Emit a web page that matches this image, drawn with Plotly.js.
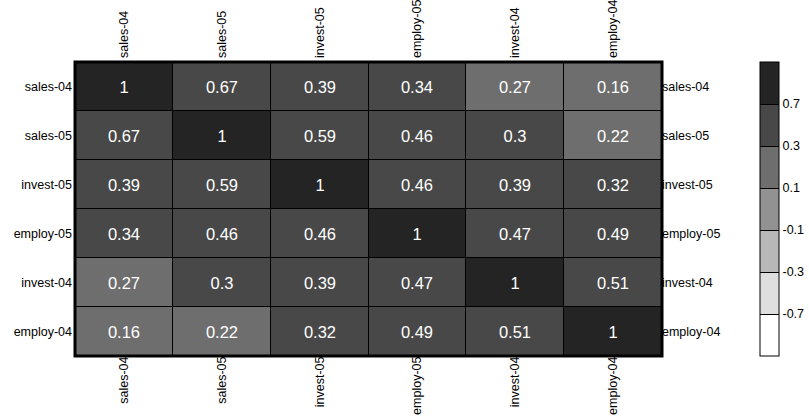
<!DOCTYPE html>
<html>
<head>
<meta charset="utf-8">
<script src="https://cdn.plot.ly/plotly-3.0.1.min.js"></script>
<style>html,body{margin:0;padding:0;background:#fff;}#chart{width:809px;height:416px;}</style>
</head>
<body>
<div id="chart"></div>
<script>
const labels = ['sales-04', 'sales-05', 'invest-05', 'employ-05', 'invest-04', 'employ-04'];
const rowSales04  = [1, 0.67, 0.39, 0.34, 0.27, 0.16];
const rowSales05  = [0.67, 1, 0.59, 0.46, 0.3, 0.22];
const rowInvest05 = [0.39, 0.59, 1, 0.46, 0.39, 0.32];
const rowEmploy05 = [0.34, 0.46, 0.46, 1, 0.47, 0.49];
const rowInvest04 = [0.27, 0.3, 0.39, 0.47, 1, 0.51];
const rowEmploy04 = [0.16, 0.22, 0.32, 0.49, 0.51, 1];
const breaks = [-0.7, -0.3, -0.1, 0.1, 0.3, 0.7];
const breakLabels = ['-0.7', '-0.3', '-0.1', '0.1', '0.3', '0.7'];
const binColors = ['#ffffff', '#dedede', '#b8b8b8', '#929292', '#6e6e6e', '#484848', '#242424'];

const matrix = [rowSales04, rowSales05, rowInvest05, rowEmploy05, rowInvest04, rowEmploy04];
function binOf(v) { let b = 0; breaks.forEach(t => { if (v >= t) b++; }); return b; }
const zBins = matrix.map(r => r.map(binOf));
const txt = matrix.map(r => r.map(v => String(v)));
const n = binColors.length;
const cs = [];
binColors.forEach((c, i) => { cs.push([i / n, c]); cs.push([(i + 1) / n, c]); });

const font = 'Liberation Sans, Arial, sans-serif';
const traces = [
  {
    type: 'heatmap', x: labels, y: labels, z: zBins, text: txt,
    texttemplate: '%{text}', textfont: {family: font, size: 16.5, color: '#ffffff'},
    colorscale: cs, zmin: -0.5, zmax: n - 0.5, xgap: 1, ygap: 1,
    hoverinfo: 'skip',
    colorbar: {
      x: 760 / 809, xanchor: 'left', xref: 'container',
      y: 0.5, yanchor: 'middle', yref: 'paper', len: 1, lenmode: 'fraction',
      thickness: 19, outlinewidth: 1, outlinecolor: '#000', borderwidth: 0, xpad: 0, ypad: 0,
      tickmode: 'array', tickvals: breaks.map((b, i) => i + 0.5), ticktext: breakLabels,
      ticks: 'inside', ticklen: 19, tickcolor: '#000', tickwidth: 1,
      tickfont: {family: font, size: 12.5, color: '#000'}
    }
  },
  {
    type: 'scatter', mode: 'markers', x: labels, y: labels, xaxis: 'x2', yaxis: 'y2',
    marker: {opacity: 0}, hoverinfo: 'skip', showlegend: false
  }
];
const axBase = {type: 'category', categoryorder: 'array', categoryarray: labels, showgrid: false, zeroline: false, showline: false, ticks: '', automargin: false, tickfont: {family: font, size: 12.5, color: '#000'}};
const layout = {
  width: 809, height: 416,
  margin: {l: 75, r: 147, t: 62, b: 60, autoexpand: false},
  paper_bgcolor: '#fff', plot_bgcolor: '#000',
  showlegend: false,
  xaxis: Object.assign({}, axBase, {range: [-0.5, 5.5], tickangle: -90, side: 'bottom', ticklabelstandoff: -3}),
  yaxis: Object.assign({}, axBase, {range: [5.5, -0.5], ticklabelstandoff: 2}),
  xaxis2: Object.assign({}, axBase, {range: [-0.5, 5.5], tickangle: -90, side: 'top', overlaying: 'x', ticklabelstandoff: 3}),
  yaxis2: Object.assign({}, axBase, {range: [5.5, -0.5], side: 'right', overlaying: 'y', ticklabelstandoff: -1}),
  shapes: [{type: 'rect', xref: 'paper', yref: 'paper', x0: 0, x1: 1, y0: 0, y1: 1, line: {color: '#000', width: 3}, fillcolor: 'rgba(0,0,0,0)'}]
};
Plotly.newPlot('chart', traces, layout, {displayModeBar: false, staticPlot: true});
</script>
</body>
</html>
